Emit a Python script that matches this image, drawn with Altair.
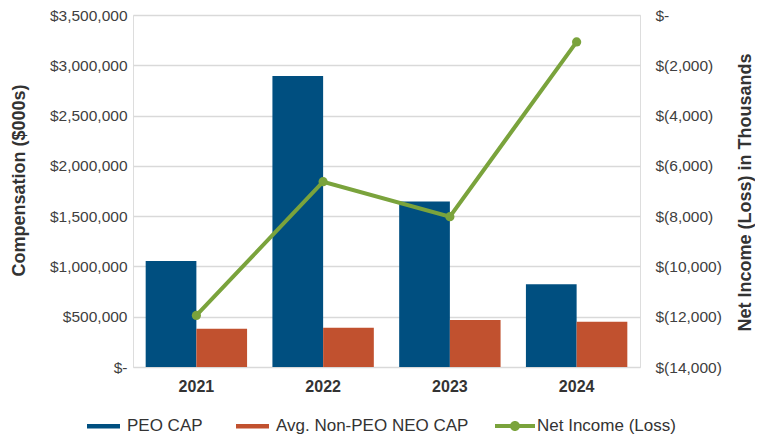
import altair as alt
import pandas as pd

years = ["2021", "2022", "2023", "2024"]
peo_cap = [1055000, 2893000, 1645000, 822000]
neo_cap = [380000, 390000, 468000, 451000]
net_income = [-11950, -6630, -8020, -1070]

series_names = ["PEO CAP", "Avg. Non-PEO NEO CAP"]
series_colors = ["#004f80", "#c1512f"]
line_name = "Net Income (Loss)"
line_color = "#7aa33c"

bars_df = pd.DataFrame(
    [{"Year": y, "Series": series_names[0], "Value": v} for y, v in zip(years, peo_cap)]
    + [{"Year": y, "Series": series_names[1], "Value": v} for y, v in zip(years, neo_cap)]
)
line_df = pd.DataFrame({"Year": years, "Net": net_income, "Metric": [line_name] * len(years)})

FONT = "Liberation Sans"
TXT = "#404040"

x_enc = alt.X(
    "Year:N",
    sort=years,
    scale=alt.Scale(paddingInner=0.2, paddingOuter=0.1),
    axis=alt.Axis(
        title=None, labelAngle=0, labelFontWeight="bold", labelFontSize=16,
        labelPadding=11, domain=False, ticks=False, labelColor="#333333",
    ),
)

bars = alt.Chart(bars_df).mark_bar().encode(
    x=x_enc,
    xOffset=alt.XOffset("Series:N", sort=series_names,
                        scale=alt.Scale(domain=series_names, paddingInner=0, paddingOuter=0)),
    y=alt.Y(
        "Value:Q",
        scale=alt.Scale(domain=[0, 3500000], nice=False),
        axis=alt.Axis(
            values=list(range(0, 3500001, 500000)),
            labelExpr="datum.value == 0 ? '$-' : '$' + format(datum.value, ',')",
            title="Compensation ($000s)",
            titleFontSize=18, titleFontWeight="bold", titleColor="#333333",
            titleAngle=270, titleBaseline="bottom", titleX=-105, titleY=165,
            labelFontSize=15.5, labelColor=TXT, labelPadding=6,
            domain=False, ticks=False,
            grid=True, gridColor="#d9d9d9", gridWidth=1.5,
        ),
    ),
    color=alt.Color(
        "Series:N",
        scale=alt.Scale(domain=series_names, range=series_colors),
        legend=alt.Legend(
            orient="none", legendX=-46, legendY=394.5, direction="horizontal",
            title=None, symbolType="M-1,-0.136H1V0.136H-1Z", symbolSize=1089,
            symbolStrokeWidth=0, labelFontSize=17, labelColor="#333333",
            labelOffset=7, columnPadding=33, labelLimit=400, padding=0,
        ),
    ),
)

y_right = alt.Y(
    "Net:Q",
    scale=alt.Scale(domain=[-14000, 0], nice=False),
    axis=alt.Axis(
        orient="right",
        values=list(range(-14000, 1, 2000)),
        labelExpr="datum.value == 0 ? '$-' : '$(' + format(-datum.value, ',') + ')'",
        title="Net Income (Loss) in Thousands",
        titleFontSize=18, titleFontWeight="bold", titleColor="#333333",
        titleAngle=270, titleBaseline="bottom", titleX=114, titleY=177,
        labelFontSize=15.5, labelColor=TXT, labelPadding=15,
        domain=False, ticks=False, grid=False,
    ),
)

line = alt.Chart(line_df).mark_line(color=line_color, strokeWidth=4).encode(
    x=alt.X("Year:N", sort=years),
    y=y_right,
)

points = alt.Chart(line_df).mark_circle(size=85, opacity=1).encode(
    x=alt.X("Year:N", sort=years),
    y=y_right,
    fill=alt.Fill(
        "Metric:N",
        scale=alt.Scale(domain=[line_name], range=[line_color]),
        legend=alt.Legend(
            orient="none", legendX=362, legendY=391, direction="horizontal",
            title=None,
            symbolType="M-1,-0.1H1V0.1H-1Z M0.25,0A0.25,0.25,0,1,1,-0.25,0A0.25,0.25,0,1,1,0.25,0Z",
            symbolSize=1600, symbolStrokeWidth=0, labelFontSize=17,
            labelColor="#333333", labelOffset=2, labelLimit=400, padding=0,
        ),
    ),
)

chart = (
    alt.layer(bars, alt.layer(line, points))
    .resolve_scale(y="independent", color="independent", fill="independent")
    .properties(
        width=507, height=352,
        autosize=alt.AutoSizeParams(type="none"),
        padding={"left": 125, "top": 7, "right": 115, "bottom": 67},
    )
    .configure_view(stroke=None)
    .configure(font=FONT)
)

chart.save("out.html", embed_options={"renderer": "svg", "actions": False})
